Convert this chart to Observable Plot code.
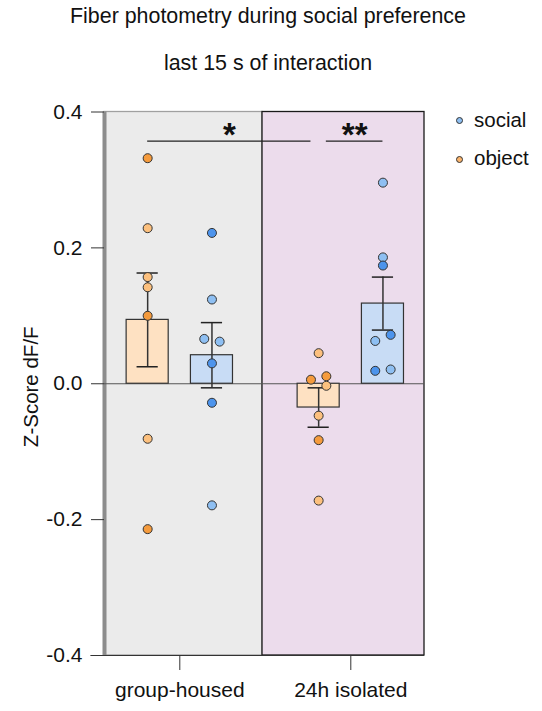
<!DOCTYPE html>
<html><head><meta charset="utf-8">
<script src="https://cdn.jsdelivr.net/npm/d3@7"></script>
<script src="https://cdn.jsdelivr.net/npm/@observablehq/plot@0.6"></script>
<style>
body{margin:0;background:#fff;font-family:"Liberation Sans",Arial,sans-serif;color:#111}
#wrap{position:relative;width:542px;height:711px;overflow:hidden;background:#fff}
#wrap svg.plot{position:absolute;left:0;top:0}
.t{position:absolute;left:0;width:536px;text-align:center;font-size:21.4px;line-height:24px;white-space:nowrap}
.lg{position:absolute;font-size:20.5px;line-height:24px;white-space:nowrap}
.dot{position:absolute;width:7px;height:7px;border-radius:50%;border:1px solid #333;box-sizing:border-box}
</style></head><body><div id="wrap">
<div class="t" style="top:4px">Fiber photometry during social preference</div>
<div class="t" style="top:51px">last 15 s of interaction</div>
<div class="dot" style="left:456px;top:117px;background:#8ebff2"></div>
<div class="lg" style="left:474px;top:108px">social</div>
<div class="dot" style="left:456px;top:156px;background:#fbb46c"></div>
<div class="lg" style="left:474px;top:146px">object</div>
</div>
<script>
// ---- data ----
const groups = ["group-housed", "24h isolated"];
const series = ["social", "object"];
const yTicks = [-0.4, -0.2, 0, 0.2, 0.4];
const socialMean = [0.042, 0.118];
const socialSem = [0.048, 0.039];
const objectMean = [0.094, -0.035];
const objectSem = [0.069, 0.029];

const ghObject = [0.332, 0.229, 0.157, 0.142, 0.100, -0.081, -0.214];
const ghObjectCohort = ["B", "A", "A", "A", "B", "A", "B"];
const ghObjectLane = [0, 0, 0, 0, 0, 0, 0];

const ghSocial = [0.222, 0.124, 0.066, 0.062, 0.030, -0.028, -0.179];
const ghSocialCohort = ["B", "A", "A", "A", "B", "B", "A"];
const ghSocialLane = [0, 0, -1, 1, 0, 0, 0];

const isoObject = [0.045, 0.006, 0.011, -0.003, -0.047, -0.083, -0.172];
const isoObjectCohort = ["A", "B", "B", "A", "A", "B", "A"];
const isoObjectLane = [0, -1, 1, 1, 0, 0, 0];

const isoSocial = [0.296, 0.186, 0.174, 0.072, 0.063, 0.019, 0.021];
const isoSocialCohort = ["A", "A", "B", "B", "A", "B", "A"];
const isoSocialLane = [0, 0, 0, 1, -1, -1, 1];

const comparisons = [
  {a: ["group-housed", "object"], b: ["24h isolated", "object"], label: "*"},
  {a: ["24h isolated", "object"], b: ["24h isolated", "social"], label: "**"}
];
const sigLevel = 0.357;

// ---- layout helpers ----
const OFF = {object: -0.188, social: 0.188};
const HALF = 0.123, CAP = 0.062, LANE = 0.045;
const pos = (g, s) => groups.indexOf(g) + OFF[s];
const barFill = {object: "#fee1c2", social: "#c8dcf5"};
const dotFill = {object: {A: "#fcc07e", B: "#f59b3d"}, social: {A: "#8ebff2", B: "#4d94ec"}};

const bars = [];
groups.forEach((g, i) => {
  bars.push({g, s: "object", m: objectMean[i], e: objectSem[i]});
  bars.push({g, s: "social", m: socialMean[i], e: socialSem[i]});
});
const pts = [];
function add(g, s, vals, coh, lane) {
  vals.forEach((v, i) => pts.push({g, s, v, c: coh[i], lane: lane[i]}));
}
add("group-housed", "object", ghObject, ghObjectCohort, ghObjectLane);
add("group-housed", "social", ghSocial, ghSocialCohort, ghSocialLane);
add("24h isolated", "object", isoObject, isoObjectCohort, isoObjectLane);
add("24h isolated", "social", isoSocial, isoSocialCohort, isoSocialLane);

const sig = comparisons.map((c, i) => {
  let x1 = pos(...c.a), x2 = pos(...c.b);
  if (i === 0) x2 -= LANE; else x1 += LANE;
  return {x1, x2, xm: (x1 + x2) / 2, label: c.label};
});

const panels = [
  {x1: -0.4404, x2: 0.4836, fill: "#ebebeb", stroke: "#a0a0a0"},
  {x1: 0.4836, x2: 1.431, fill: "#ecdcec", stroke: "#1a1a1a"}
];

const chart = Plot.plot({
  width: 542, height: 711,
  marginLeft: 104, marginRight: 118, marginTop: 111.5, marginBottom: 56,
  style: {fontFamily: "'Liberation Sans', Arial, sans-serif", fontSize: "20px", color: "#111", background: "transparent"},
  x: {domain: [-0.4404, 1.431], axis: null},
  y: {domain: [-0.4, 0.4], axis: null},
  marks: [
    Plot.rect(panels, {x1: "x1", x2: "x2", y1: -0.4, y2: 0.4, fill: "fill", stroke: "stroke", strokeWidth: 1.3}),
    Plot.ruleX([-0.4404], {y1: -0.4, y2: 0.4, stroke: "#8c8c8c", strokeWidth: 4}),
    Plot.ruleY([0], {stroke: "#555", strokeWidth: 1.2}),
    Plot.rect(bars, {x1: d => pos(d.g, d.s) - HALF, x2: d => pos(d.g, d.s) + HALF, y1: 0, y2: "m",
      fill: d => barFill[d.s], stroke: "#333", strokeWidth: 1.2}),
    Plot.ruleX(bars, {x: d => pos(d.g, d.s), y1: d => d.m - d.e, y2: d => d.m + d.e, stroke: "#333", strokeWidth: 1.5}),
    Plot.ruleY(bars, {y: d => d.m - d.e, x1: d => pos(d.g, d.s) - CAP, x2: d => pos(d.g, d.s) + CAP, stroke: "#222", strokeWidth: 1.5}),
    Plot.ruleY(bars, {y: d => d.m + d.e, x1: d => pos(d.g, d.s) - CAP, x2: d => pos(d.g, d.s) + CAP, stroke: "#222", strokeWidth: 1.5}),
    Plot.dot(pts, {x: d => pos(d.g, d.s) + d.lane * LANE, y: "v", r: 4.5,
      fill: d => dotFill[d.s][d.c], stroke: "#333", strokeWidth: 1}),
    Plot.ruleY(sig, {y: sigLevel, x1: "x1", x2: "x2", stroke: "#222", strokeWidth: 1.2}),
    Plot.text(sig, {x: "xm", y: sigLevel, text: "label", fontSize: 33, fontWeight: "bold", dy: -6, fill: "#111"}),
    Plot.ruleY([-0.4], {stroke: "#333", strokeWidth: 1.2, x1: -0.52, x2: 1.431}),
    Plot.axisY({ticks: yTicks, tickFormat: d => d.toFixed(1), tickSize: 13, tickPadding: 9, fontSize: 21, label: null, stroke: "#333"}),
    Plot.axisX({ticks: [0, 1], tickFormat: i => groups[i], tickSize: 15, tickPadding: 12, fontSize: 21, label: null, stroke: "#333"}),
    Plot.text(["Z-Score dF/F"], {frameAnchor: "left", textAnchor: "middle", rotate: -90, dx: -73, dy: 3, fontSize: 20.5, fill: "#111"})
  ]
});
chart.classList.add("plot");
document.getElementById("wrap").appendChild(chart);
</script>
</body></html>
